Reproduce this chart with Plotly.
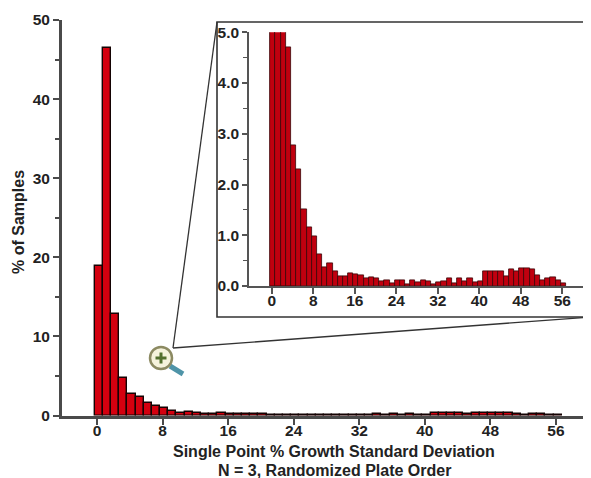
import plotly.graph_objects as go

# Share of samples per 1-unit bin of standard deviation
bin_centers = [i + 0.2 for i in range(57)]
percent_samples = [
    18.9, 46.4, 12.8, 4.7, 2.78, 2.3, 1.52, 1.15, 0.97, 0.62,
    0.37, 0.44, 0.28, 0.2, 0.2, 0.26, 0.24, 0.21, 0.16, 0.17,
    0.16, 0.1, 0.12, 0.05, 0.12, 0.12, 0.04, 0.11, 0.07, 0.12,
    0.1, 0.03, 0.07, 0.09, 0.16, 0.05, 0.16, 0.1, 0.16, 0.07,
    0.1, 0.28, 0.28, 0.28, 0.28, 0.2, 0.33, 0.28, 0.35, 0.35,
    0.33, 0.22, 0.12, 0.16, 0.18, 0.12, 0.05,
]
x_ticks = [0, 8, 16, 24, 32, 40, 48, 56]
main_y_ticks = [0, 10, 20, 30, 40, 50]
inset_y_ticks = [0.0, 1.0, 2.0, 3.0, 4.0, 5.0]
inset_y_labels = ["0.0", "1.0", "2.0", "3.0", "4.0", "5.0"]

BODY = 8  # page margin around the figure
W, H = 591 - BODY, 478 - BODY
FONT = "Liberation Sans"
INK = "#222222"


def px(x):
    return (x - BODY) / W


def py(y):
    return 1 - (y - BODY) / H


fig = go.Figure()
fig.add_trace(go.Bar(x=bin_centers, y=percent_samples, width=1, xaxis="x", yaxis="y",
                     marker=dict(color="#d4000f", line=dict(color="#140303", width=1.4))))
fig.add_trace(go.Bar(x=bin_centers, y=percent_samples, width=1, xaxis="x2", yaxis="y2",
                     marker=dict(color="#c0000f", line=dict(color="#3a0508", width=0.8))))


def axis_common(width, color):
    return dict(showgrid=False, zeroline=False, showline=True, linecolor=color, linewidth=width,
                ticks="outside", tickcolor=color, tickwidth=1.5,
                tickfont=dict(family=FONT, size=15.5, color=INK, weight="bold"))


fig.update_layout(
    width=W, height=H, autosize=False, showlegend=False,
    margin=dict(l=0, r=0, t=0, b=0, autoexpand=False),
    paper_bgcolor="white", plot_bgcolor="rgba(0,0,0,0)",
    bargap=0,
    xaxis=dict(domain=[px(62), px(583)], range=[-4.27, 59.3], anchor="y",
               tickmode="array", tickvals=x_ticks, ticklen=6, ticklabelstandoff=-7,
               **axis_common(3, "#4a4a4a")),
    yaxis=dict(domain=[py(415.5), py(20)], range=[0, 50], anchor="x",
               tickmode="array", tickvals=main_y_ticks, ticklen=6,
               minor=dict(dtick=5, ticks="outside", ticklen=4, tickcolor="#4a4a4a", tickwidth=1.5),
               **axis_common(3, "#4a4a4a")),
    xaxis2=dict(domain=[px(249), px(583)], range=[-4.4, 60], anchor="y2",
                tickmode="array", tickvals=x_ticks, ticklen=6, ticklabelstandoff=-6,
                **axis_common(1.5, "#555555")),
    yaxis2=dict(domain=[py(286), py(32.3)], range=[0, 5], anchor="x2",
                tickmode="array", tickvals=inset_y_ticks, ticktext=inset_y_labels, ticklen=5,
                minor=dict(dtick=0.5, ticks="outside", ticklen=4, tickcolor="#555555", tickwidth=1.2),
                **axis_common(1.5, "#555555")),
)

title_font = dict(family=FONT, size=16, color=INK, weight="bold")
centered = dict(xref="paper", yref="paper", xanchor="center", yanchor="middle", showarrow=False,
                font=title_font)
fig.add_annotation(text="% of Samples", x=px(18), y=py(222), textangle=-90, **centered)
fig.add_annotation(text="Single Point % Growth Standard Deviation", x=px(334), y=py(451), **centered)
fig.add_annotation(text="N = 3, Randomized Plate Order", x=px(334), y=py(470), **centered)

paper = dict(xref="paper", yref="paper")
# Callout: zoom wedge lines and inset frame
fig.add_shape(type="line", x0=px(217), y0=py(22), x1=px(173), y1=py(348),
              line=dict(color="#333333", width=1.3), **paper)
fig.add_shape(type="line", x0=px(591), y0=py(317), x1=px(173), y1=py(348),
              line=dict(color="#333333", width=1.3), **paper)
fig.add_shape(type="rect", x0=px(217), y0=py(317), x1=px(600), y1=py(22),
              line=dict(color="#333333", width=1.6), fillcolor="white", layer="below", **paper)
# Magnifier icon
fig.add_shape(type="line", x0=px(170), y0=py(366), x1=px(183), y1=py(374),
              line=dict(color="#4f94a8", width=5), **paper)
fig.add_shape(type="circle", x0=px(150), y0=py(369), x1=px(172), y1=py(347),
              line=dict(color="#8c8a62", width=2.5), fillcolor="#f6f3dc", **paper)
fig.add_shape(type="line", x0=px(155.5), y0=py(358), x1=px(166.5), y1=py(358),
              line=dict(color="#55702f", width=3), **paper)
fig.add_shape(type="line", x0=px(161), y0=py(352.5), x1=px(161), y1=py(363.5),
              line=dict(color="#55702f", width=3), **paper)

fig.write_html("out.html", default_width=f"{W}px", default_height=f"{H}px")
